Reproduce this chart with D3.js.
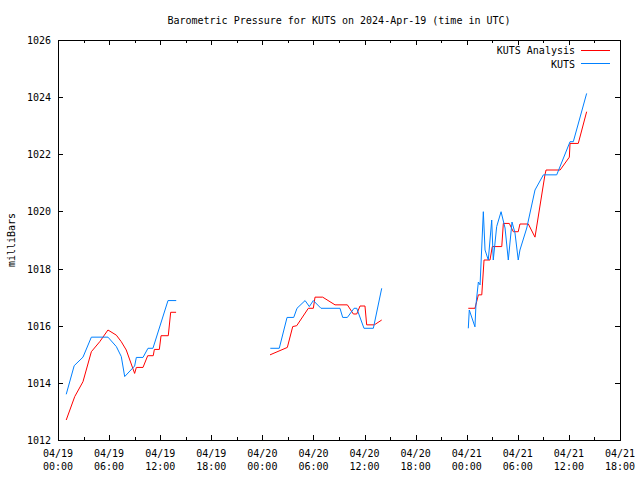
<!DOCTYPE html>
<html><head><meta charset="utf-8">
<script src="https://cdn.jsdelivr.net/npm/d3@7"></script>
<style>body{margin:0;background:#fff}svg text{font-family:"DejaVu Sans Mono",monospace;font-size:10px;fill:#000}</style>
</head><body><svg id="c" width="640" height="480"></svg>
<script>
const titleText = "Barometric Pressure for KUTS on 2024-Apr-19 (time in UTC)";
const yLabel = "milliBars";
const seriesNames = ["KUTS Analysis", "KUTS"];
const yTicks = [1012, 1014, 1016, 1018, 1020, 1022, 1024, 1026];
const xTickTimes = ["2024-04-19T00:00","2024-04-19T06:00","2024-04-19T12:00","2024-04-19T18:00","2024-04-20T00:00","2024-04-20T06:00","2024-04-20T12:00","2024-04-20T18:00","2024-04-21T00:00","2024-04-21T06:00","2024-04-21T12:00","2024-04-21T18:00"];
const xMinorTimes = ["2024-04-19T03:00","2024-04-19T09:00","2024-04-19T15:00","2024-04-19T21:00","2024-04-20T03:00","2024-04-20T09:00","2024-04-20T15:00","2024-04-20T21:00","2024-04-21T03:00","2024-04-21T09:00","2024-04-21T15:00"];

// KUTS observations (null = gap)
const kutsTimes = [
 "2024-04-19T00:58","2024-04-19T01:54","2024-04-19T02:56","2024-04-19T03:55","2024-04-19T05:52","2024-04-19T06:51","2024-04-19T07:26","2024-04-19T07:50","2024-04-19T09:00","2024-04-19T09:12","2024-04-19T09:59","2024-04-19T10:34","2024-04-19T11:09","2024-04-19T12:55","2024-04-19T13:53",
 null,
 "2024-04-20T00:56","2024-04-20T01:59","2024-04-20T02:54","2024-04-20T03:41","2024-04-20T04:04","2024-04-20T05:01","2024-04-20T05:31","2024-04-20T05:59","2024-04-20T06:53","2024-04-20T09:07","2024-04-20T09:26","2024-04-20T09:59","2024-04-20T10:46","2024-04-20T11:05","2024-04-20T11:56","2024-04-20T13:02","2024-04-20T14:01",
 null,
 "2024-04-21T00:11","2024-04-21T00:18","2024-04-21T00:37","2024-04-21T00:58","2024-04-21T01:05","2024-04-21T01:22","2024-04-21T01:34","2024-04-21T01:57","2024-04-21T02:09","2024-04-21T02:32","2024-04-21T02:56","2024-04-21T03:07","2024-04-21T03:31","2024-04-21T04:02","2024-04-21T04:30","2024-04-21T04:53","2024-04-21T05:19","2024-04-21T05:40","2024-04-21T06:03","2024-04-21T06:15","2024-04-21T07:03","2024-04-21T08:01","2024-04-21T09:00","2024-04-21T10:34","2024-04-21T12:08","2024-04-21T12:31","2024-04-21T14:05"
];
const kutsValues = [
 1013.60,1014.60,1014.90,1015.60,1015.60,1015.27,1014.92,1014.22,1014.59,1014.89,1014.89,1015.21,1015.21,1016.88,1016.88,
 null,
 1015.21,1015.21,1016.29,1016.29,1016.61,1016.88,1016.67,1016.88,1016.61,1016.61,1016.29,1016.29,1016.61,1016.61,1015.91,1015.91,1017.31,
 null,
 1015.91,1016.55,1016.27,1015.96,1016.73,1017.53,1017.43,1019.99,1018.65,1018.30,1019.70,1018.30,1019.47,1019.99,1019.42,1018.30,1019.63,1019.25,1018.30,1018.65,1019.42,1020.75,1021.28,1021.28,1022.44,1022.44,1024.13
];

// KUTS Analysis (null = gap)
const analysisTimes = [
 "2024-04-19T00:58","2024-04-19T01:58","2024-04-19T02:56","2024-04-19T03:55","2024-04-19T04:54","2024-04-19T05:52","2024-04-19T06:51","2024-04-19T07:26","2024-04-19T08:01","2024-04-19T09:00","2024-04-19T09:12","2024-04-19T09:59","2024-04-19T10:32","2024-04-19T11:11","2024-04-19T11:19","2024-04-19T11:54","2024-04-19T12:06","2024-04-19T12:57","2024-04-19T13:14","2024-04-19T13:52",
 null,
 "2024-04-20T00:54","2024-04-20T02:56","2024-04-20T03:34","2024-04-20T04:02","2024-04-20T05:24","2024-04-20T05:59","2024-04-20T06:11","2024-04-20T07:05","2024-04-20T08:32","2024-04-20T09:59","2024-04-20T10:41","2024-04-20T11:05","2024-04-20T11:28","2024-04-20T12:03","2024-04-20T12:15","2024-04-20T13:09","2024-04-20T14:01",
 null,
 "2024-04-21T00:11","2024-04-21T00:58","2024-04-21T01:10","2024-04-21T01:22","2024-04-21T01:46","2024-04-21T02:02","2024-04-21T02:44","2024-04-21T03:00","2024-04-21T04:07","2024-04-21T04:18","2024-04-21T05:00","2024-04-21T05:28","2024-04-21T06:03","2024-04-21T06:15","2024-04-21T07:14","2024-04-21T08:01","2024-04-21T09:11","2024-04-21T09:19","2024-04-21T10:58","2024-04-21T12:03","2024-04-21T12:08","2024-04-21T13:06","2024-04-21T14:05"
];
const analysisValues = [
 1012.70,1013.52,1014.04,1015.09,1015.44,1015.85,1015.67,1015.44,1015.15,1014.33,1014.54,1014.54,1014.95,1014.95,1015.17,1015.17,1015.65,1015.65,1016.47,1016.47,
 null,
 1014.98,1015.24,1015.97,1016.00,1016.61,1016.61,1017.00,1017.00,1016.73,1016.73,1016.41,1016.41,1016.69,1016.69,1016.03,1016.03,1016.20,
 null,
 1016.61,1016.61,1016.84,1017.08,1017.08,1018.30,1018.30,1018.77,1018.77,1019.58,1019.58,1019.29,1019.29,1019.56,1019.56,1019.10,1021.28,1021.45,1021.45,1021.90,1022.38,1022.38,1023.49
];

const colors = ["#ff0000", "#0080ff"];

const parse = d3.utcParse("%Y-%m-%dT%H:%M");
const L = 58, R = 620, T = 40, B = 440;
const x = d3.scaleUtc().domain([parse(xTickTimes[0]), parse(xTickTimes[xTickTimes.length-1])]).range([L, R]);
const y = d3.scaleLinear().domain([yTicks[0], yTicks[yTicks.length-1]]).range([B, T]);
const svg = d3.select("#c");

function toPts(ts, vs){ return ts.map((t,i)=> t===null ? null : {t: parse(t), v: vs[i]}); }
const line = d3.line().defined(d=>d!==null).x(d=>x(d.t)).y(d=>y(d.v));

// axes
const majors = xTickTimes.map(parse), minors = xMinorTimes.map(parse);
const gb = svg.append("g").attr("transform",`translate(0,${B})`)
  .call(d3.axisBottom(x).tickValues(majors).tickSize(-5).tickFormat(""));
gb.append("g").call(d3.axisBottom(x).tickValues(minors).tickSize(-3).tickFormat(""));
const gt = svg.append("g").attr("transform",`translate(0,${T})`)
  .call(d3.axisTop(x).tickValues(majors).tickSize(-5).tickFormat(""));
gt.append("g").call(d3.axisTop(x).tickValues(minors).tickSize(-3).tickFormat(""));
svg.append("g").attr("transform",`translate(${L},0)`).call(d3.axisLeft(y).tickValues(yTicks).tickSize(-5).tickFormat(""));
svg.append("g").attr("transform",`translate(${R},0)`).call(d3.axisRight(y).tickValues(yTicks).tickSize(-5).tickFormat(""));
svg.selectAll(".domain").remove();
svg.selectAll(".tick line").attr("stroke","#000").attr("shape-rendering","crispEdges");
svg.append("rect").attr("x",L).attr("y",T).attr("width",R-L).attr("height",B-T)
  .attr("fill","none").attr("stroke","#000").attr("shape-rendering","crispEdges");

// tick labels
const fmtD = d3.utcFormat("%m/%d"), fmtT = d3.utcFormat("%H:%M");
const xl = svg.append("g").selectAll("text").data(majors).join("text")
  .attr("text-anchor","middle").attr("x",d=>x(d));
xl.append("tspan").attr("x",d=>x(d)).attr("y",457).text(d=>fmtD(d));
xl.append("tspan").attr("x",d=>x(d)).attr("y",470).text(d=>fmtT(d));
svg.append("g").selectAll("text").data(yTicks).join("text")
  .attr("text-anchor","end").attr("x",51).attr("y",d=>y(d)+4).text(d=>d);

svg.append("text").attr("x",339).attr("y",24).attr("text-anchor","middle").text(titleText);
svg.append("text").attr("transform","translate(15,240) rotate(-90)").attr("text-anchor","middle").text(yLabel);

// lines
const series = [toPts(analysisTimes, analysisValues), toPts(kutsTimes, kutsValues)];
series.forEach((s,i)=>{
  svg.append("path").attr("d", line(s)).attr("fill","none").attr("stroke",colors[i]).attr("stroke-width",1);
});

// legend
seriesNames.forEach((n,i)=>{
  const yy = 50 + i*13.5;
  svg.append("text").attr("x",575).attr("y",yy+4).attr("text-anchor","end").text(n);
  svg.append("line").attr("x1",581).attr("x2",610).attr("y1",yy).attr("y2",yy).attr("stroke",colors[i]).attr("shape-rendering","crispEdges");
});
</script></body></html>
